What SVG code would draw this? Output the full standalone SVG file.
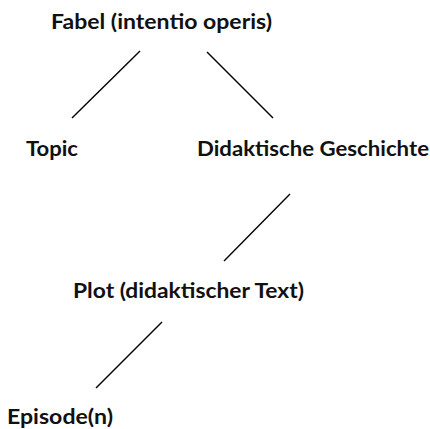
<svg xmlns="http://www.w3.org/2000/svg" width="430" height="429" viewBox="0 0 430 429">
<style>
text{font-family:Lato,"Open Sans","Liberation Sans",sans-serif;font-weight:bold;font-size:21px;fill:#111}
line{stroke:#000;stroke-width:1.4}
</style>
<rect width="430" height="429" fill="#fff"/>
<g id="connectors">
<line x1="140" y1="51" x2="72" y2="118"/>
<line x1="207" y1="52" x2="273" y2="118"/>
<line x1="290" y1="194" x2="224" y2="261"/>
<line x1="162" y1="322" x2="96" y2="388"/>
</g>
<g id="fabel"><text x="51" y="29" textLength="221" lengthAdjust="spacingAndGlyphs">Fabel (intentio operis)</text></g>
<g id="topic"><text x="26" y="156" textLength="52" lengthAdjust="spacingAndGlyphs">Topic</text></g>
<g id="geschichte"><text x="197" y="156" textLength="232" lengthAdjust="spacingAndGlyphs">Didaktische Geschichte</text></g>
<g id="plot"><text x="73" y="298" textLength="231" lengthAdjust="spacingAndGlyphs">Plot (didaktischer Text)</text></g>
<g id="episode"><text x="7" y="424" textLength="106" lengthAdjust="spacingAndGlyphs">Episode(n)</text></g>
</svg>
